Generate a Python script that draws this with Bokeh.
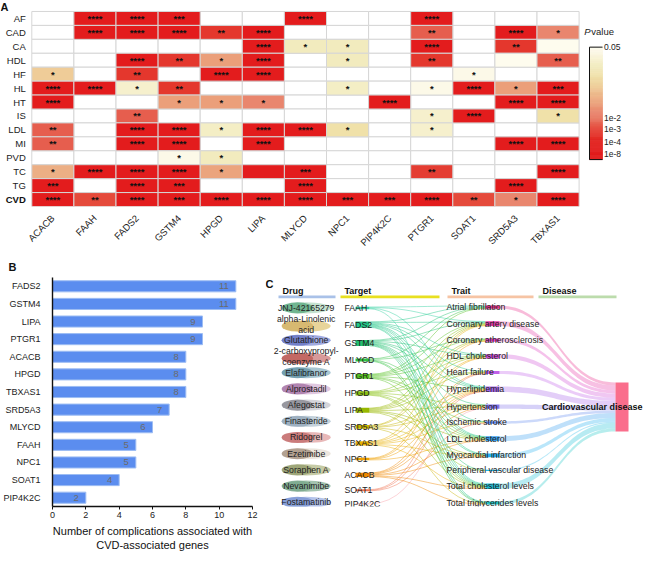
import numpy as np
from math import pi
from bokeh.plotting import figure
from bokeh.models import Range1d, FactorRange, FixedTicker, ColumnDataSource, LinearColorMapper
from bokeh.transform import transform
from bokeh.layouts import column, row
from bokeh.embed import file_html
from bokeh.resources import INLINE
from bokeh.core.properties import value

FONT = "Liberation Sans"

# ---------------- data: panel A (heatmap) ----------------
genes = ["ACACB", "FAAH", "FADS2", "GSTM4", "HPGD", "LIPA", "MLYCD", "NPC1",
         "PIP4K2C", "PTGR1", "SOAT1", "SRD5A3", "TBXAS1"]
row_abbr = ["AF", "CAD", "CA", "HDL", "HF", "HL", "HT", "IS", "LDL", "MI", "PVD", "TC", "TG", "CVD"]
N = None
# estimated P values (None = empty cell)
p_AF  = [N, 1e-9, 1e-9, 1e-9, N, N, 1e-9, N, N, 1e-9, N, N, N]
p_CAD = [N, 1e-9, 1e-9, 1e-9, 4e-4, 1e-9, N, N, N, 3e-3, N, 1e-9, 0.0115]
p_CA  = [N, N, N, N, N, 1e-9, 0.032, 0.032, N, 1e-9, N, 4e-4, 0.05]
p_HDL = [N, N, 1e-9, 4e-4, 0.014, 1e-9, N, 0.032, N, 4e-4, N, 0.05, 3e-3]
p_HF  = [0.0206, N, 4e-4, N, 1e-9, 1e-9, N, N, N, N, 0.046, N, N]
p_HL  = [1e-9, 1e-9, 0.037, 4e-4, N, N, N, 0.034, N, 0.046, 1e-9, 0.014, 1e-9]
p_HT  = [1e-9, N, N, 0.014, 0.014, 0.0115, N, N, 1e-9, N, N, 1e-9, 1e-9]
p_IS  = [N, N, 3e-3, N, N, N, N, N, N, 0.037, 1e-9, N, 0.026]
p_LDL = [3e-3, N, 1e-9, 1e-9, 0.034, 1e-9, 1e-9, 0.026, N, 0.037, N, N, N]
p_MI  = [3e-3, N, 1e-9, 1e-9, N, 1e-9, N, N, N, N, N, 1e-9, 1e-9]
p_PVD = [N, N, N, 0.046, 0.032, N, N, N, N, N, N, N, N]
p_TC  = [0.016, 1e-9, 1e-9, 1e-9, 0.0145, 1e-9, 1e-9, N, N, 6e-4, N, N, 1e-9]
p_TG  = [1e-9, N, 1e-9, 1e-9, N, N, 1e-9, N, N, N, N, 1e-9, N]
p_CVD = [1e-9, 1.2e-3, 1e-9, 1e-9, 1e-9, 1e-9, 1e-9, 1e-9, 1e-9, 1e-9, 1.2e-3, 0.0115, 1e-9]
# number of significance stars per cell
s_AF  = [0, 4, 4, 3, 0, 0, 4, 0, 0, 4, 0, 0, 0]
s_CAD = [0, 4, 4, 4, 2, 4, 0, 0, 0, 2, 0, 4, 1]
s_CA  = [0, 0, 0, 0, 0, 4, 1, 1, 0, 4, 0, 2, 0]
s_HDL = [0, 0, 4, 2, 1, 4, 0, 1, 0, 2, 0, 0, 2]
s_HF  = [1, 0, 2, 0, 4, 4, 0, 0, 0, 0, 1, 0, 0]
s_HL  = [4, 4, 1, 2, 0, 0, 0, 1, 0, 1, 4, 1, 3]
s_HT  = [4, 0, 0, 1, 1, 1, 0, 0, 4, 0, 0, 4, 4]
s_IS  = [0, 0, 2, 0, 0, 0, 0, 0, 0, 1, 4, 0, 1]
s_LDL = [2, 0, 4, 4, 1, 4, 4, 1, 0, 1, 0, 0, 0]
s_MI  = [2, 0, 4, 4, 0, 4, 0, 0, 0, 0, 0, 4, 4]
s_PVD = [0, 0, 0, 1, 1, 0, 0, 0, 0, 0, 0, 0, 0]
s_TC  = [1, 4, 4, 4, 1, 0, 3, 0, 0, 2, 0, 0, 4]
s_TG  = [3, 0, 4, 3, 0, 0, 4, 0, 0, 0, 0, 4, 0]
s_CVD = [4, 2, 4, 3, 4, 4, 4, 3, 3, 4, 2, 1, 4]
pvals = [p_AF, p_CAD, p_CA, p_HDL, p_HF, p_HL, p_HT, p_IS, p_LDL, p_MI, p_PVD, p_TC, p_TG, p_CVD]
stars = [s_AF, s_CAD, s_CA, s_HDL, s_HF, s_HL, s_HT, s_IS, s_LDL, s_MI, s_PVD, s_TC, s_TG, s_CVD]
cb_ticks = [0.05, 1e-2, 1e-3, 1e-4, 1e-8]
cb_labels = ["0.05", "1e-2", "1e-3", "1e-4", "1e-8"]

# ---------------- data: panel B (bars) ----------------
bar_genes = ["FADS2", "GSTM4", "LIPA", "PTGR1", "ACACB", "HPGD", "TBXAS1",
             "SRD5A3", "MLYCD", "FAAH", "NPC1", "SOAT1", "PIP4K2C"]
bar_counts = [11, 11, 9, 9, 8, 8, 8, 7, 6, 5, 5, 4, 2]

# ---------------- data: panel C (sankey) ----------------
drugs = ["JNJ-42165279", "alpha-Linolenic\nacid", "Glutathione", "2-carboxypropyl-\ncoenzyme A",
         "Elafibranor", "Alprostadil", "Afegostat", "Finasteride", "Ridogrel", "Ezetimibe",
         "Soraphen A", "Nevanimibe", "Fostamatinib"]
targets = ["FAAH", "FADS2", "GSTM4", "MLYCD", "PTGR1", "HPGD", "LIPA", "SRD5A3",
           "TBXAS1", "NPC1", "ACACB", "SOAT1", "PIP4K2C"]
traits = ["Atrial fibrillation", "Coronary artery disease", "Coronary atherosclerosis",
          "HDL cholesterol", "Heart failure", "Hyperlipidemia", "Hypertension",
          "Ischemic stroke", "LDL cholesterol", "Myocardial infarction",
          "Peripheral vascular disease", "Total cholesterol levels", "Total triglycerides levels"]
disease = "Cardiovascular disease"
headers = ["Drug", "Target", "Trait", "Disease"]

# ---------------- styles ----------------
stops_pos = [0.0, 0.16, 0.24, 0.30, 0.32, 0.37, 0.42, 0.50, 0.55, 0.65, 0.74, 0.83, 0.88, 0.96, 1.0]
stops_col = ["#e31a1c", "#e32420", "#e43a30", "#e5503f", "#e66050", "#e87a62", "#e9866e", "#eba07a",
             "#ecae84", "#efcc98", "#f0e0a8", "#f2ecc0", "#f6f0cc", "#fcf8e6", "#fefcee"]
target_colors = ["#30d0a0", "#20c888", "#22c070", "#30c040", "#55c020", "#88c010", "#98b800",
                 "#c8b400", "#e8b000", "#f0a000", "#f08800", "#f07050", "#f8a0a8"]
trait_colors = ["#e8308c", "#e63aa8", "#e040c0", "#d050d8", "#c060e8", "#a868e8", "#8070e8",
                "#6088f0", "#38a0f0", "#28b0f0", "#20b8e8", "#20c0d8", "#20c8c8"]
drug_dark = ["#62ad85", "#d4b46a", "#6a78c4", "#c0605a", "#6a98aa", "#a878a8", "#8c8c94",
             "#98aabb", "#c47070", "#a89484", "#96a070", "#7aa88c", "#7e98d4"]
drug_light = ["#c4e2d0", "#e8d49a", "#a0aae0", "#d89a9a", "#a8c6d2", "#e0c8e0", "#d4d4da",
              "#c4d2dc", "#e8b8b8", "#ece6de", "#c6cba6", "#a4c4b0", "#b4c4ea"]
header_colors = ["#a9c1e8", "#e8e020", "#f6c4a4", "#bcdcac"]
disease_color = "#fa6e8c"


def hex2rgb(h):
    return np.array([int(h[i:i + 2], 16) for i in (1, 3, 5)], dtype=float)


grid_t = np.linspace(0, 1, 256)
rgb = np.array([hex2rgb(c) for c in stops_col])
palette = []
for t in grid_t:
    r = np.interp(t, stops_pos, rgb[:, 0]); g = np.interp(t, stops_pos, rgb[:, 1]); b = np.interp(t, stops_pos, rgb[:, 2])
    palette.append("#%02x%02x%02x" % (int(round(r)), int(round(g)), int(round(b))))
mapper = LinearColorMapper(palette=palette, low=0, high=1)


def p_to_pos(p):
    L = -np.log10(p)
    return float(np.interp(L, [1.30103, 2, 3, 4, 8, 12], [1.0, 0.366, 0.274, 0.159, 0.049, 0.0]))


# ================= Panel A =================
A_W, A_H, A_B = 644, 254, 42
HM_L, HM_T = 31.3, 11.3          # heatmap top-left inside the canvas (px)
CELL_W = 42.1
nrow, ncol = len(row_abbr), len(genes)
CELL_H = (A_H - A_B - HM_T) / nrow


def ax(px):
    return -0.5 + (px - HM_L) / CELL_W


def ay(py):
    return (nrow - 0.5) - (py - HM_T) / CELL_H


pA = figure(width=A_W, height=A_H, x_range=Range1d(ax(0), ax(A_W)), y_range=Range1d(ay(A_H - A_B), ay(0)),
            min_border_left=0, min_border_right=0, min_border_top=0, min_border_bottom=A_B,
            output_backend="svg", toolbar_location=None)

ex, ey, cx, cy, cpos, sx_, sy_, stxt = [], [], [], [], [], [], [], []
for j, (pr, sr) in enumerate(zip(pvals, stars)):
    yv = nrow - 1 - j
    for i, (pv, sv) in enumerate(zip(pr, sr)):
        if pv is None:
            ex.append(i); ey.append(yv)
        else:
            cx.append(i); cy.append(yv); cpos.append(p_to_pos(pv))
        if sv > 0:
            sx_.append(i); sy_.append(yv); stxt.append("*" * sv)

pA.rect(x=ex, y=ey, width=1, height=1, fill_color="white", line_color="#d6d6d6", line_width=1)
csrc = ColumnDataSource(dict(x=cx, y=cy, pos=cpos))
pA.rect(x="x", y="y", width=1, height=1, source=csrc, fill_color=transform("pos", mapper),
        line_color="#d6d6d6", line_width=1)
pA.text(x=sx_, y=sy_, text=stxt, text_align="center", text_baseline="middle",
        text_font=value(FONT), text_font_size="9.5px", text_font_style="bold", text_color="#111111")

# row labels (categories), CVD in bold
pA.text(x=[ax(HM_L - 6)] * (nrow - 1), y=[nrow - 1 - j for j in range(nrow - 1)], text=row_abbr[:-1],
        text_align="right", text_baseline="middle", text_font=value(FONT), text_font_size="9.5px",
        text_color="#222222")
pA.text(x=[ax(HM_L - 6)], y=[0], text=row_abbr[-1:], text_align="right", text_baseline="middle",
        text_font=value(FONT), text_font_size="9.5px", text_font_style="bold", text_color="#111111")
pA.text(x=[ax(0)], y=[ay(1)], text=["A"], text_align="left", text_baseline="top",
        text_font=value(FONT), text_font_size="11px", text_font_style="bold", text_color="#111111")

# colour bar
cb_l, cb_r = ax(589), ax(602)
cb_b, cb_t = ay(163.7), ay(48)
edges = np.linspace(0, 1, 121)
cbsrc = ColumnDataSource(dict(bottom=cb_b + edges[:-1] * (cb_t - cb_b), top=cb_b + edges[1:] * (cb_t - cb_b),
                              pos=(edges[:-1] + edges[1:]) / 2))
pA.quad(left=cb_l, right=cb_r, bottom="bottom", top="top", source=cbsrc,
        fill_color=transform("pos", mapper), line_color=transform("pos", mapper), line_width=0.6)
pA.line(x=[cb_r, cb_l, cb_l, cb_r], y=[cb_t, cb_t, cb_b, cb_b], line_color="#111111", line_width=1)
pA.text(x=[ax(603.5)] * len(cb_ticks), y=[cb_b + p_to_pos(t) * (cb_t - cb_b) for t in cb_ticks],
        text=cb_labels, text_align="left", text_baseline="middle", text_font=value(FONT),
        text_font_size="8.5px", text_color="#222222")
pA.text(x=[ax(583.7)], y=[ay(32)], text=["P"], text_align="left", text_baseline="middle",
        text_font=value(FONT), text_font_size="9.5px", text_font_style="italic", text_color="#222222")
pA.text(x=[ax(590.8)], y=[ay(32)], text=["value"], text_align="left", text_baseline="middle",
        text_font=value(FONT), text_font_size="9.5px", text_color="#222222")

pA.xaxis.ticker = FixedTicker(ticks=list(range(ncol)))
pA.xaxis.major_label_overrides = {i: g for i, g in enumerate(genes)}
pA.xaxis.major_label_orientation = pi / 4
pA.xaxis.axis_line_color = None
pA.xaxis.major_tick_line_color = None
pA.xaxis.minor_tick_line_color = None
pA.xaxis.major_label_text_font = FONT
pA.xaxis.major_label_text_color = "#222222"
pA.xaxis.major_label_text_font_size = "9.5px"
pA.xaxis.major_label_standoff = 4
pA.yaxis.visible = False
pA.grid.visible = False
pA.outline_line_color = None

# ================= Panel B =================
B_W, B_H = 265, 299
B_L, B_R, B_T, B_Bt = 44, 13, 21, 40
pB = figure(width=B_W, height=B_H, y_range=FactorRange(factors=bar_genes[::-1]), x_range=Range1d(0, 12),
            min_border_left=B_L, min_border_right=B_R, min_border_top=B_T, min_border_bottom=B_Bt,
            title="B", output_backend="svg", toolbar_location=None)
pB.title.align = "left"
pB.title.offset = -B_L
pB.title.standoff = 9
pB.title.text_font = FONT
pB.title.text_font_size = "11px"
pB.title.text_font_style = "bold"
pB.title.text_color = "#111111"
pB.hbar(y=bar_genes, left=0, right=bar_counts, height=0.63, fill_color="#5b8def",
        line_color="#9dbdf3", line_width=1)
pB.text(x=bar_counts, y=bar_genes, text=[str(c) for c in bar_counts], x_offset=-7,
        text_align="right", text_baseline="middle", text_font=value(FONT),
        text_font_size="9.5px", text_color="#6b6b6b")
pB.xaxis.ticker = FixedTicker(ticks=list(range(0, 13, 2)))
pB.xaxis.major_tick_out = 3
pB.xaxis.major_tick_in = 0
pB.xaxis.minor_tick_line_color = None
pB.xaxis.major_label_standoff = 2
pB.xaxis.axis_label = "Number of complications associated with\nCVD-associated genes"
pB.xaxis.axis_label_text_font_style = "normal"
pB.xaxis.axis_label_text_font_size = "11px"
pB.xaxis.axis_label_standoff = 4
pB.xaxis.axis_label_text_font = FONT
pB.xaxis.axis_label_text_color = "#111111"
pB.yaxis.major_tick_line_color = None
pB.yaxis.minor_tick_line_color = None
pB.yaxis.major_label_standoff = 6
for axis in (pB.xaxis, pB.yaxis):
    axis.axis_line_color = "#111111"
    axis.axis_line_width = 1.4
    axis.major_label_text_font = FONT
    axis.major_label_text_color = "#222222"
    axis.major_label_text_font_size = "9px"
pB.xaxis.major_tick_line_color = "#111111"
pB.grid.visible = False
pB.outline_line_color = None

# ================= Panel C =================
C_W, C_H = 644 - B_W, B_H
pC = figure(width=C_W, height=C_H, x_range=Range1d(0, C_W), y_range=Range1d(C_H, 0),
            min_border_left=0, min_border_right=0, min_border_top=0, min_border_bottom=0,
            output_backend="svg", toolbar_location=None)
pC.axis.visible = False
pC.grid.visible = False
pC.outline_line_color = None

U = 0.8  # px per link
links = []
for j in range(nrow - 1):
    for i, g in enumerate(genes):
        pv = pvals[j][i]
        if pv is not None and pv < 0.05:
            links.append((g, traits[j]))
tsize = {t: sum(1 for l in links if l[0] == t) for t in targets}
rsize = {r: sum(1 for l in links if l[1] == r) for r in traits}


def stack(order, sizes, c_first, c_last):
    hs = [sizes[k] * U for k in order]
    pad = (c_last - c_first - (sum(hs) - hs[0] / 2 - hs[-1] / 2)) / (len(order) - 1)
    tops, y = [], c_first - hs[0] / 2
    for h in hs:
        tops.append(y); y += h + pad
    return dict(zip(order, tops)), dict(zip(order, hs))


t_top, t_h = stack(targets, tsize, 39.7, 295.5)
r_top, r_h = stack(traits, rsize, 38.7, 294.5)
X_T0, X_T1 = 90, 104
X_R0, X_R1 = 220, 234
X_D0, X_D1 = 350, 363
D_top = 137.0

# header
hx = [(13, 70), (75, 174), (182, 268), (273, 351)]
pC.quad(left=[h[0] for h in hx], right=[h[1] for h in hx], top=[23.6] * 4, bottom=[27.0] * 4,
        fill_color=header_colors, line_color=None)
pC.text(x=[h[0] + 4 for h in hx], y=[18] * 4, text=headers, text_align="left", text_baseline="middle",
        text_font=value(FONT), text_font_size="9px", text_font_style="bold", text_color="#111111")
pC.text(x=[0], y=[1], text=["C"], text_align="left", text_baseline="top", text_font=value(FONT),
        text_font_size="11px", text_font_style="bold", text_color="#111111")

# target -> trait links
t_used = {t: 0 for t in targets}
r_used = {r: 0 for r in traits}
lx0, ly0, lx1, ly1, lc = [], [], [], [], []
tmp_y0 = {}
for l in sorted(links, key=lambda l: (targets.index(l[0]), traits.index(l[1]))):
    tmp_y0[l] = t_top[l[0]] + t_used[l[0]] * U + U / 2
    t_used[l[0]] += 1
for l in sorted(links, key=lambda l: (traits.index(l[1]), targets.index(l[0]))):
    y1 = r_top[l[1]] + r_used[l[1]] * U + U / 2
    r_used[l[1]] += 1
    lx0.append(X_T1); lx1.append(X_R0); ly0.append(tmp_y0[l]); ly1.append(y1)
    lc.append(target_colors[targets.index(l[0])])
xm = (X_T1 + X_R0) / 2
pC.bezier(x0=lx0, y0=ly0, x1=lx1, y1=ly1, cx0=[xm] * len(lx0), cy0=ly0, cx1=[xm] * len(lx0), cy1=ly1,
          line_color=lc, line_width=U + 0.2, line_alpha=0.45)

# trait -> disease ribbons
tt = np.linspace(0, 1, 40)
xm2 = (X_R1 + X_D0) / 2
bxs = (1 - tt) ** 3 * X_R1 + 3 * (1 - tt) ** 2 * tt * xm2 + 3 * (1 - tt) * tt ** 2 * xm2 + tt ** 3 * X_D0
sblend = 3 * tt ** 2 - 2 * tt ** 3
rxs, rys = [], []
d_y = D_top
for r in traits:
    y0a, y0b = r_top[r], r_top[r] + r_h[r]
    y1a, y1b = d_y, d_y + r_h[r]
    d_y += r_h[r]
    top = y0a + (y1a - y0a) * sblend
    bot = y0b + (y1b - y0b) * sblend
    rxs.append(list(np.concatenate([bxs, bxs[::-1]])))
    rys.append(list(np.concatenate([top, bot[::-1]])))
pC.patches(xs=rxs, ys=rys, fill_color=trait_colors, fill_alpha=0.32, line_color=None)

# nodes
pC.quad(left=X_T0, right=X_T1, top=[t_top[t] for t in targets], bottom=[t_top[t] + t_h[t] for t in targets],
        fill_color=target_colors, line_color=None)
pC.quad(left=X_R0, right=X_R1, top=[r_top[r] for r in traits], bottom=[r_top[r] + r_h[r] for r in traits],
        fill_color=trait_colors, line_color=None)
pC.quad(left=[X_D0], right=[X_D1], top=[D_top], bottom=[d_y], fill_color=disease_color, line_color=None)

# drug pills
n_d = len(drugs)
PILL_W, PILL_H = 49, 14.5
dy = [39.7 + k * (293.5 - 39.7) / (n_d - 1) for k in range(n_d)]
pill_y = [y + (2.5 if "\n" in d else 0) for y, d in zip(dy, drugs)]
pC.ellipse(x=[40.7] * n_d, y=pill_y, width=PILL_W, height=PILL_H, fill_color=drug_light, line_color=None)
pC.ellipse(x=[40.7 - 0.18 * PILL_W] * n_d, y=pill_y, width=0.64 * PILL_W, height=PILL_H, fill_color=drug_dark,
           line_color=None, fill_alpha=0.85)
pC.text(x=[40.7] * n_d, y=dy, text=drugs, text_align="center", text_baseline="middle",
        text_font=value(FONT), text_font_size="8.7px", text_color="#222222", text_line_height=1.1)

# labels
pC.text(x=[79] * len(targets), y=[t_top[t] + t_h[t] / 2 for t in targets], text=targets,
        text_align="left", text_baseline="middle", text_font=value(FONT), text_font_size="8.7px",
        text_color="#222222")
pC.text(x=[181] * len(traits), y=[r_top[r] + r_h[r] / 2 for r in traits], text=traits,
        text_align="left", text_baseline="middle", text_font=value(FONT), text_font_size="8.7px",
        text_color="#222222")
pC.text(x=[C_W - 2], y=[(D_top + d_y) / 2], text=[disease], text_align="right", text_baseline="middle",
        text_font=value(FONT), text_font_size="9px", text_font_style="bold", text_color="#111111")

layout = column(pA, row(pB, pC))
open("out.html", "w").write(file_html(layout, INLINE))
